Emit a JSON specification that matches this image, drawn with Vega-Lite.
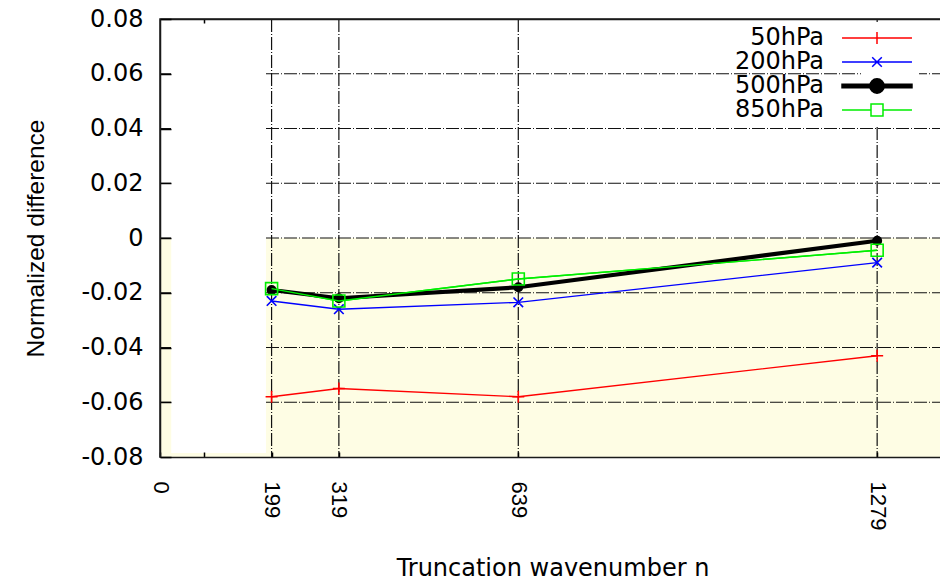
{
  "$schema": "https://vega.github.io/schema/vega-lite/v6.json",
  "width": 785,
  "height": 438,
  "autosize": {"type": "none"},
  "padding": {"left": 160, "top": 19, "right": 0, "bottom": 123},
  "background": "white",
  "config": {
    "view": {"stroke": "#1a1a1a", "strokeWidth": 1.5},
    "font": "Liberation Sans"
  },
  "datasets": {
    "series": [
      {"n": 199, "pres": "50hPa", "value": -0.058},
      {"n": 319, "pres": "50hPa", "value": -0.055},
      {"n": 639, "pres": "50hPa", "value": -0.058},
      {"n": 1279, "pres": "50hPa", "value": -0.043},
      {"n": 199, "pres": "200hPa", "value": -0.023},
      {"n": 319, "pres": "200hPa", "value": -0.026},
      {"n": 639, "pres": "200hPa", "value": -0.0235},
      {"n": 1279, "pres": "200hPa", "value": -0.009},
      {"n": 199, "pres": "500hPa", "value": -0.019},
      {"n": 319, "pres": "500hPa", "value": -0.022},
      {"n": 639, "pres": "500hPa", "value": -0.018},
      {"n": 1279, "pres": "500hPa", "value": -0.001},
      {"n": 199, "pres": "850hPa", "value": -0.0185},
      {"n": 319, "pres": "850hPa", "value": -0.023},
      {"n": 639, "pres": "850hPa", "value": -0.015},
      {"n": 1279, "pres": "850hPa", "value": -0.0045}
    ],
    "band": [{"n": 0, "n2": 1400, "value": -0.08, "value2": 0}],
    "blank": [{"n": 20, "n2": 189, "value": -0.0785, "value2": 0.0785}],
    "gridN": [{"n": 199}, {"n": 319}, {"n": 639}, {"n": 1279}],
    "gridV": [
      {"value": -0.06}, {"value": -0.04}, {"value": -0.02}, {"value": 0},
      {"value": 0.02}, {"value": 0.04}, {"value": 0.06}
    ]
  },
  "resolve": {"axis": {"x": "independent"}},
  "layer": [
    {
      "data": {"name": "band"},
      "mark": {"type": "rect", "color": "#fefde4"},
      "encoding": {
        "x": {
          "field": "n", "type": "quantitative", "scale": {"domain": [0, 1400]},
          "axis": {
            "orient": "top", "values": [79], "labels": false, "title": null,
            "grid": false, "domain": true, "domainColor": "#1a1a1a", "domainWidth": 1.5,
            "tickSize": -4, "tickColor": "#000000", "tickWidth": 1.5, "zindex": 1
          }
        },
        "x2": {"field": "n2"},
        "y": {"field": "value", "type": "quantitative", "scale": {"domain": [-0.08, 0.08]}},
        "y2": {"field": "value2"}
      }
    },
    {
      "data": {"name": "gridN"},
      "mark": {"type": "rule", "color": "#111111", "strokeWidth": 1.2, "strokeDash": [13, 2, 1, 2]},
      "encoding": {
        "x": {"field": "n", "type": "quantitative", "axis": null}
      }
    },
    {
      "data": {"name": "gridV"},
      "mark": {"type": "rule", "color": "#111111", "strokeWidth": 1.2, "strokeDash": [13, 2, 1, 2]},
      "encoding": {
        "y": {"field": "value", "type": "quantitative"}
      }
    },
    {
      "data": {"name": "blank"},
      "mark": {"type": "rect", "color": "#ffffff"},
      "encoding": {
        "x": {"field": "n", "type": "quantitative", "axis": null},
        "x2": {"field": "n2"},
        "y": {"field": "value", "type": "quantitative"},
        "y2": {"field": "value2"}
      }
    },
    {
      "data": {"name": "series"},
      "mark": {"type": "line", "strokeWidth": 1.4},
      "encoding": {
        "x": {
          "field": "n", "type": "quantitative",
          "title": "Truncation wavenumber n",
          "axis": {
            "values": [0, 79, 199, 319, 639, 1279],
            "labelExpr": "datum.value == 79 ? '' : '' + datum.value",
            "labelAngle": 90, "labelFont": "Liberation Sans", "labelFontSize": 22,
            "labelColor": "#000000", "labelPadding": 29, "labelFlush": false,
            "labelOverlap": false, "labelBound": false,
            "tickSize": -5, "tickColor": "#000000", "tickWidth": 1.5,
            "grid": false, "domain": true, "domainColor": "#1a1a1a", "domainWidth": 1.5,
            "titleFont": "DejaVu Sans", "titleFontSize": 24, "titleFontWeight": "normal",
            "titleColor": "#000000", "titleBaseline": "alphabetic", "titleY": 118,
            "zindex": 1
          }
        },
        "y": {
          "field": "value", "type": "quantitative",
          "title": "Normalized difference",
          "axis": {
            "values": [-0.08, -0.06, -0.04, -0.02, 0, 0.02, 0.04, 0.06, 0.08],
            "labelExpr": "abs(datum.value) < 1e-9 ? '0' : (datum.value < 0 ? '-' + format(-datum.value, '.2f') : format(datum.value, '.2f'))",
            "labelFont": "DejaVu Sans", "labelFontSize": 24, "labelColor": "#000000",
            "labelPadding": 28,
            "tickSize": -11, "tickColor": "#000000", "tickWidth": 1.5,
            "grid": false, "domain": true, "domainColor": "#1a1a1a", "domainWidth": 1.5,
            "titleFont": "Liberation Sans", "titleFontSize": 24.5, "titleFontWeight": "normal",
            "titleColor": "#000000", "titleBaseline": "alphabetic",
            "titleX": -117, "titleY": 219, "titleAlign": "center",
            "zindex": 1
          }
        },
        "color": {
          "field": "pres", "type": "nominal",
          "scale": {
            "domain": ["50hPa", "200hPa", "500hPa", "850hPa"],
            "range": ["#ff0000", "#0000ff", "#000000", "#00ee00"]
          },
          "legend": {
            "orient": "none", "legendX": 701, "legendY": 3, "title": null,
            "labelFont": "DejaVu Sans", "labelFontSize": 24, "labelColor": "#000000",
            "labelAlign": "right", "labelOffset": -65, "labelLimit": 300,
            "symbolSize": 144, "symbolStrokeWidth": 1.5, "rowPadding": 0,
            "fillColor": "#ffffff", "padding": 4,
            "encode": {
              "symbols": {
                "update": {
                  "shape": {"signal": "datum.value === '50hPa' ? 'M-5.83,0H5.83M0,-1V1' : datum.value === '200hPa' ? 'M-5.83,0H5.83M-0.8,-0.8L0.8,0.8M-0.8,0.8L0.8,-0.8' : datum.value === '500hPa' ? 'M-5.83,-0.3H5.83V0.3H-5.83ZM1.2,0A1.2,1.2,0,1,1,-1.2,0A1.2,1.2,0,1,1,1.2,0Z' : 'M-5.83,0H-1M1,0H5.83M-1,-1H1V1H-1ZM-1,-1V1H1V-1Z'"},
                  "opacity": {"value": 1}
                }
              }
            }
          }
        }
      }
    },
    {
      "data": {"name": "series"},
      "transform": [{"filter": "datum.pres === '500hPa'"}],
      "mark": {"type": "line", "strokeWidth": 4.2},
      "encoding": {
        "x": {"field": "n", "type": "quantitative", "axis": null},
        "y": {"field": "value", "type": "quantitative"},
        "color": {"field": "pres", "type": "nominal", "legend": null}
      }
    },
    {
      "data": {"name": "series"},
      "transform": [{"filter": "datum.pres === '500hPa'"}],
      "mark": {"type": "point", "filled": true, "shape": "circle", "size": 100, "opacity": 1},
      "encoding": {
        "x": {"field": "n", "type": "quantitative", "axis": null},
        "y": {"field": "value", "type": "quantitative"},
        "color": {"field": "pres", "type": "nominal", "legend": null}
      }
    },
    {
      "data": {"name": "series"},
      "transform": [{"filter": "datum.pres === '850hPa'"}],
      "mark": {"type": "line", "strokeWidth": 1.4},
      "encoding": {
        "x": {"field": "n", "type": "quantitative", "axis": null},
        "y": {"field": "value", "type": "quantitative"},
        "color": {"field": "pres", "type": "nominal", "legend": null}
      }
    },
    {
      "data": {"name": "series"},
      "transform": [{"filter": "datum.pres !== '500hPa'"}],
      "mark": {"type": "point", "filled": false, "strokeWidth": 1.6, "size": 144, "opacity": 1},
      "encoding": {
        "x": {"field": "n", "type": "quantitative", "axis": null},
        "y": {"field": "value", "type": "quantitative"},
        "color": {"field": "pres", "type": "nominal", "legend": null},
        "shape": {
          "field": "pres", "type": "nominal",
          "scale": {
            "domain": ["50hPa", "200hPa", "850hPa"],
            "range": ["M-1,0H1M0,-1V1", "M-0.8,-0.8L0.8,0.8M-0.8,0.8L0.8,-0.8", "square"]
          },
          "legend": null
        }
      }
    }
  ]
}
